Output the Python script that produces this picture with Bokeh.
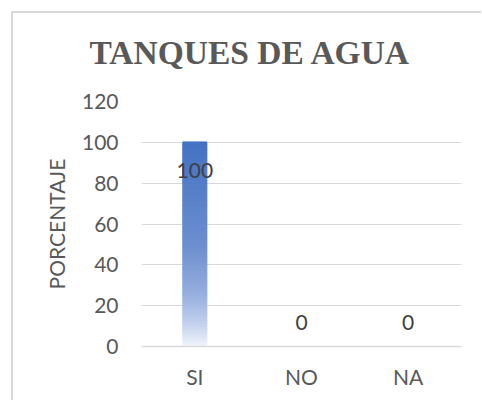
import numpy as np
from bokeh.plotting import figure
from bokeh.models import Range1d, FixedTicker, ColumnDataSource
from bokeh.core.properties import value
from bokeh.embed import file_html
from bokeh.resources import INLINE

# ---- data ----
title_text = "TANQUES DE AGUA"
categories = ["SI", "NO", "NA"]
values = [100, 0, 0]
y_ticks = [0, 20, 40, 60, 80, 100, 120]
y_label = "PORCENTAJE"

xpos = [i + 0.5 for i in range(len(categories))]

W, H = 481, 400
FL, FR, FT, FB = 141, 461, 101, 346  # frame edges on the page
p = figure(width=W, height=H, output_backend="svg", toolbar_location=None,
           x_range=Range1d(0, len(categories)), y_range=Range1d(0, 120),
           min_border_left=FL, min_border_right=W - FR, min_border_top=FT, min_border_bottom=H - FB)
p.outline_line_color = None
p.background_fill_color = "white"
p.border_fill_color = None

# chart border drawn as CSS background lines (top and left edge of the chart area)
line = "linear-gradient(#D9D9D9, #D9D9D9)"
p.styles = {
    "background-color": "white",
    "background-image": f"{line}, {line}",
    "background-size": "100% 2px, 2px 100%",
    "background-position": "11px 11px, 11px 11px",
    "background-repeat": "no-repeat",
}

# title
p.title.text = title_text
p.title.align = "left"
p.title.offset = 89 - FL
p.title.text_font = "Liberation Serif"
p.title.text_font_style = "bold"
p.title.text_font_size = "33.5px"
p.title.text_color = "#595959"
p.title.standoff = 62

# gradient bar: stacked segments, dark blue at top fading to white at bottom
stops_t = [0.0, 0.5, 0.75, 0.9, 1.0]
stops_c = [(68, 114, 196), (108, 142, 206), (152, 176, 223), (200, 213, 239), (242, 245, 251)]
N = 80
segs = dict(x=[], bottom=[], top=[], color=[])
for xc, v in zip(xpos, values):
    if v <= 0:
        continue
    edges = np.linspace(0, v, N + 1)
    for k in range(N):
        t = 1 - (edges[k] + edges[k + 1]) / 2 / v  # 0 at top, 1 at bottom
        rgb = [int(round(np.interp(t, stops_t, [c[j] for c in stops_c]))) for j in range(3)]
        segs["x"].append(xc)
        segs["bottom"].append(edges[k])
        segs["top"].append(edges[k + 1] + v * 0.002)
        segs["color"].append("#%02x%02x%02x" % tuple(rgb))
p.vbar(x="x", bottom="bottom", top="top", width=0.225, color="color", source=ColumnDataSource(segs))

# data labels
offs = [28 if v > 20 else -24 for v in values]
p.text(x=xpos, y=values, text=[str(v) for v in values], y_offset=offs,
       text_align="center", text_baseline="middle", text_font=value("Lato"),
       text_font_size="21px", text_color="#404040")

# axes
p.yaxis.ticker = FixedTicker(ticks=y_ticks)
p.xaxis.ticker = FixedTicker(ticks=xpos)
p.xaxis.major_label_overrides = {x: c for x, c in zip(xpos, categories)}
for ax in (p.xaxis[0], p.yaxis[0]):
    ax.major_tick_line_color = None
    ax.minor_tick_line_color = None
    ax.major_label_text_font = "Lato"
    ax.major_label_text_font_size = "21px"
    ax.major_label_text_color = "#595959"
p.yaxis.axis_line_color = None
p.yaxis.major_label_standoff = 17
p.xaxis.axis_line_color = "#D9D9D9"
p.xaxis.axis_line_width = 1.5
p.xaxis.major_label_standoff = 11
p.yaxis.axis_label = y_label
p.yaxis.axis_label_text_font = "Lato"
p.yaxis.axis_label_text_font_size = "21px"
p.yaxis.axis_label_text_font_style = "normal"
p.yaxis.axis_label_text_color = "#595959"
p.yaxis.axis_label_standoff = 10

p.xgrid.grid_line_color = None
p.ygrid.grid_line_color = "#D9D9D9"
p.ygrid.grid_line_width = 1

open("out.html", "w").write(file_html(p, INLINE))
